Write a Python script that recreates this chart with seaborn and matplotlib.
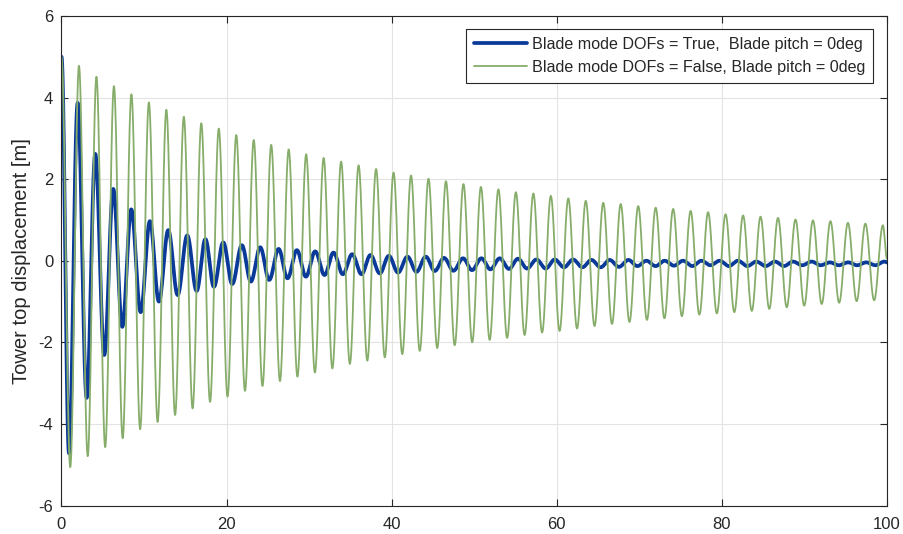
import numpy as np
import pandas as pd
import matplotlib
matplotlib.use("Agg")
import matplotlib.pyplot as plt
import seaborn as sns

# ---- data (extrema of each oscillation) ----
green_period = 2.117  # s, spacing between successive green peaks
green_ext_y = [5.00, -5.06, 4.78, -4.79, 4.51, -4.57, 4.28, -4.35, 4.08, -4.13,
               3.88, -3.95, 3.70, -3.78, 3.53, -3.62, 3.37, -3.46, 3.24, -3.33,
               3.08, -3.19, 2.96, -3.07, 2.84, -2.95, 2.73, -2.84, 2.61, -2.74,
               2.52, -2.64, 2.43, -2.53, 2.34, -2.45, 2.25, -2.37, 2.16, -2.29,
               2.09, -2.21, 2.01, -2.14, 1.95, -2.07, 1.88, -2.00, 1.81, -1.94,
               1.75, -1.89, 1.68, -1.82, 1.65, -1.76, 1.59, -1.72, 1.53, -1.66,
               1.47, -1.60, 1.42, -1.55, 1.39, -1.50, 1.34, -1.45, 1.30, -1.41,
               1.27, -1.36, 1.22, -1.32, 1.19, -1.29, 1.14, -1.26, 1.11, -1.23,
               1.08, -1.18, 1.05, -1.14, 1.01, -1.10, 0.99, -1.06, 0.97, -1.03,
               0.93, -0.99, 0.91, -0.97, 0.87]
green_end = (100.0, 0.05)

blue_ext_t = [0.00, 0.91, 1.96, 3.05, 4.09, 5.18, 6.27, 7.36, 8.45, 9.59,
              10.71, 11.80, 12.93, 14.07, 15.23, 16.37, 17.43, 18.46, 19.59, 20.68,
              21.85, 22.94, 24.07, 25.16, 26.30, 27.38, 28.51, 29.60, 30.73, 31.86,
              32.95, 34.08, 35.21, 36.34, 37.43, 38.56, 39.65, 40.77, 41.91, 43.00,
              44.13, 45.22, 46.34, 47.48, 48.64, 49.73, 50.87, 51.96, 53.09, 54.21,
              55.30, 56.39, 57.53, 58.66, 59.75, 60.87, 61.96, 63.10, 64.19, 65.31,
              66.40, 67.53, 68.67, 69.76, 70.85, 71.97, 73.06, 74.19, 75.28, 76.42,
              77.51, 78.60, 79.72, 80.85, 81.94, 83.08, 84.16, 85.29, 86.42, 87.51,
              88.60, 89.73, 90.86, 91.95, 93.08, 94.16, 95.30, 96.39, 97.48, 98.61,
              99.70]
blue_ext_y = [5.00, -4.72, 3.87, -3.36, 2.62, -2.31, 1.76, -1.62, 1.26, -1.26,
              0.97, -1.00, 0.75, -0.84, 0.62, -0.74, 0.53, -0.64, 0.45, -0.57,
              0.38, -0.51, 0.33, -0.47, 0.29, -0.43, 0.26, -0.39, 0.23, -0.35,
              0.20, -0.33, 0.16, -0.33, 0.14, -0.31, 0.12, -0.29, 0.10, -0.27,
              0.10, -0.25, 0.07, -0.245, 0.06, -0.23, 0.06, -0.21, 0.06, -0.20,
              0.05, -0.19, 0.03, -0.19, 0.03, -0.16, 0.03, -0.16, 0.02, -0.16,
              0.02, -0.15, 0.02, -0.13, 0.00, -0.13, 0.00, -0.12, 0.00, -0.13,
              0.00, -0.11, 0.00, -0.13, 0.00, -0.13, -0.02, -0.13, -0.02, -0.13,
              -0.02, -0.11, -0.02, -0.11, -0.04, -0.11, -0.04, -0.11, -0.04, -0.11,
              -0.02]
blue_end = (100.0, -0.04)

labels = ["Blade mode DOFs = True,  Blade pitch = 0deg",
          "Blade mode DOFs = False, Blade pitch = 0deg"]
x_ticks = [0, 20, 40, 60, 80, 100]
y_ticks = [-6, -4, -2, 0, 2, 4, 6]
y_label = "Tower top displacement [m]"


def through_extrema(ts, ys, end, n=40):
    """Smooth half-cosine path through the read extrema."""
    ts = list(ts) + [end[0]]
    ys = list(ys) + [end[1]]
    xx, yy = [], []
    for i in range(len(ts) - 1):
        s = np.linspace(0, 1, n, endpoint=False)
        xx.append(ts[i] + (ts[i + 1] - ts[i]) * s)
        yy.append(ys[i] + (ys[i + 1] - ys[i]) * (1 - np.cos(np.pi * s)) / 2)
    xx.append([ts[-1]])
    yy.append([ys[-1]])
    return np.concatenate(xx), np.concatenate(yy)


green_ext_t = [k * green_period / 2 for k in range(len(green_ext_y))]
bx, by = through_extrema(blue_ext_t, blue_ext_y, blue_end)
gx, gy = through_extrema(green_ext_t, green_ext_y, green_end)

df_b = pd.DataFrame({"t": bx, "y": by})
df_g = pd.DataFrame({"t": gx, "y": gy})

sns.set_theme(style="white")
plt.rcParams["font.family"] = ["Liberation Sans", "DejaVu Sans"]

fig = plt.figure(figsize=(9.04, 5.34), dpi=100)
ax = fig.add_axes([61.5 / 904, 1 - 505.5 / 534, (887 - 61.5) / 904, (505.5 - 16) / 534])

sns.lineplot(data=df_b, x="t", y="y", ax=ax, color="#0a3a99", lw=2.7,
             sort=False, estimator=None, label=labels[0])
sns.lineplot(data=df_g, x="t", y="y", ax=ax, color="#86ad6a", lw=1.3,
             sort=False, estimator=None, label=labels[1])

ax.set_xlim(0, 100)
ax.set_ylim(-6, 6)
ax.set_xticks(x_ticks)
ax.set_yticks(y_ticks)
ax.set_xticklabels([str(v) for v in x_ticks])
ax.set_yticklabels([str(v) for v in y_ticks])
ax.set_xlabel("")
ax.set_ylabel(y_label, fontsize=14.5, color="#262626", labelpad=5)
ax.grid(True, color="#e3e3e3", lw=0.8)
ax.set_axisbelow(True)
for sp in ax.spines.values():
    sp.set_visible(True)
    sp.set_color("#262626")
    sp.set_linewidth(0.8)
ax.tick_params(direction="in", length=5, width=0.8, colors="#262626",
               labelsize=12, top=True, right=True, bottom=True, left=True)
ax.tick_params(axis="y", pad=6)
ax.tick_params(axis="x", pad=8)

leg = ax.legend(loc="upper right", bbox_to_anchor=(873 / 904, 1 - 29 / 534),
                bbox_transform=fig.transFigure, frameon=True, fancybox=False,
                framealpha=1, edgecolor="#262626", fontsize=11.6,
                handlelength=3.25, handletextpad=0.3, borderpad=0.5,
                labelspacing=0.5, borderaxespad=0)
leg.get_frame().set_linewidth(0.8)

fig.savefig("out.png", dpi=100)
